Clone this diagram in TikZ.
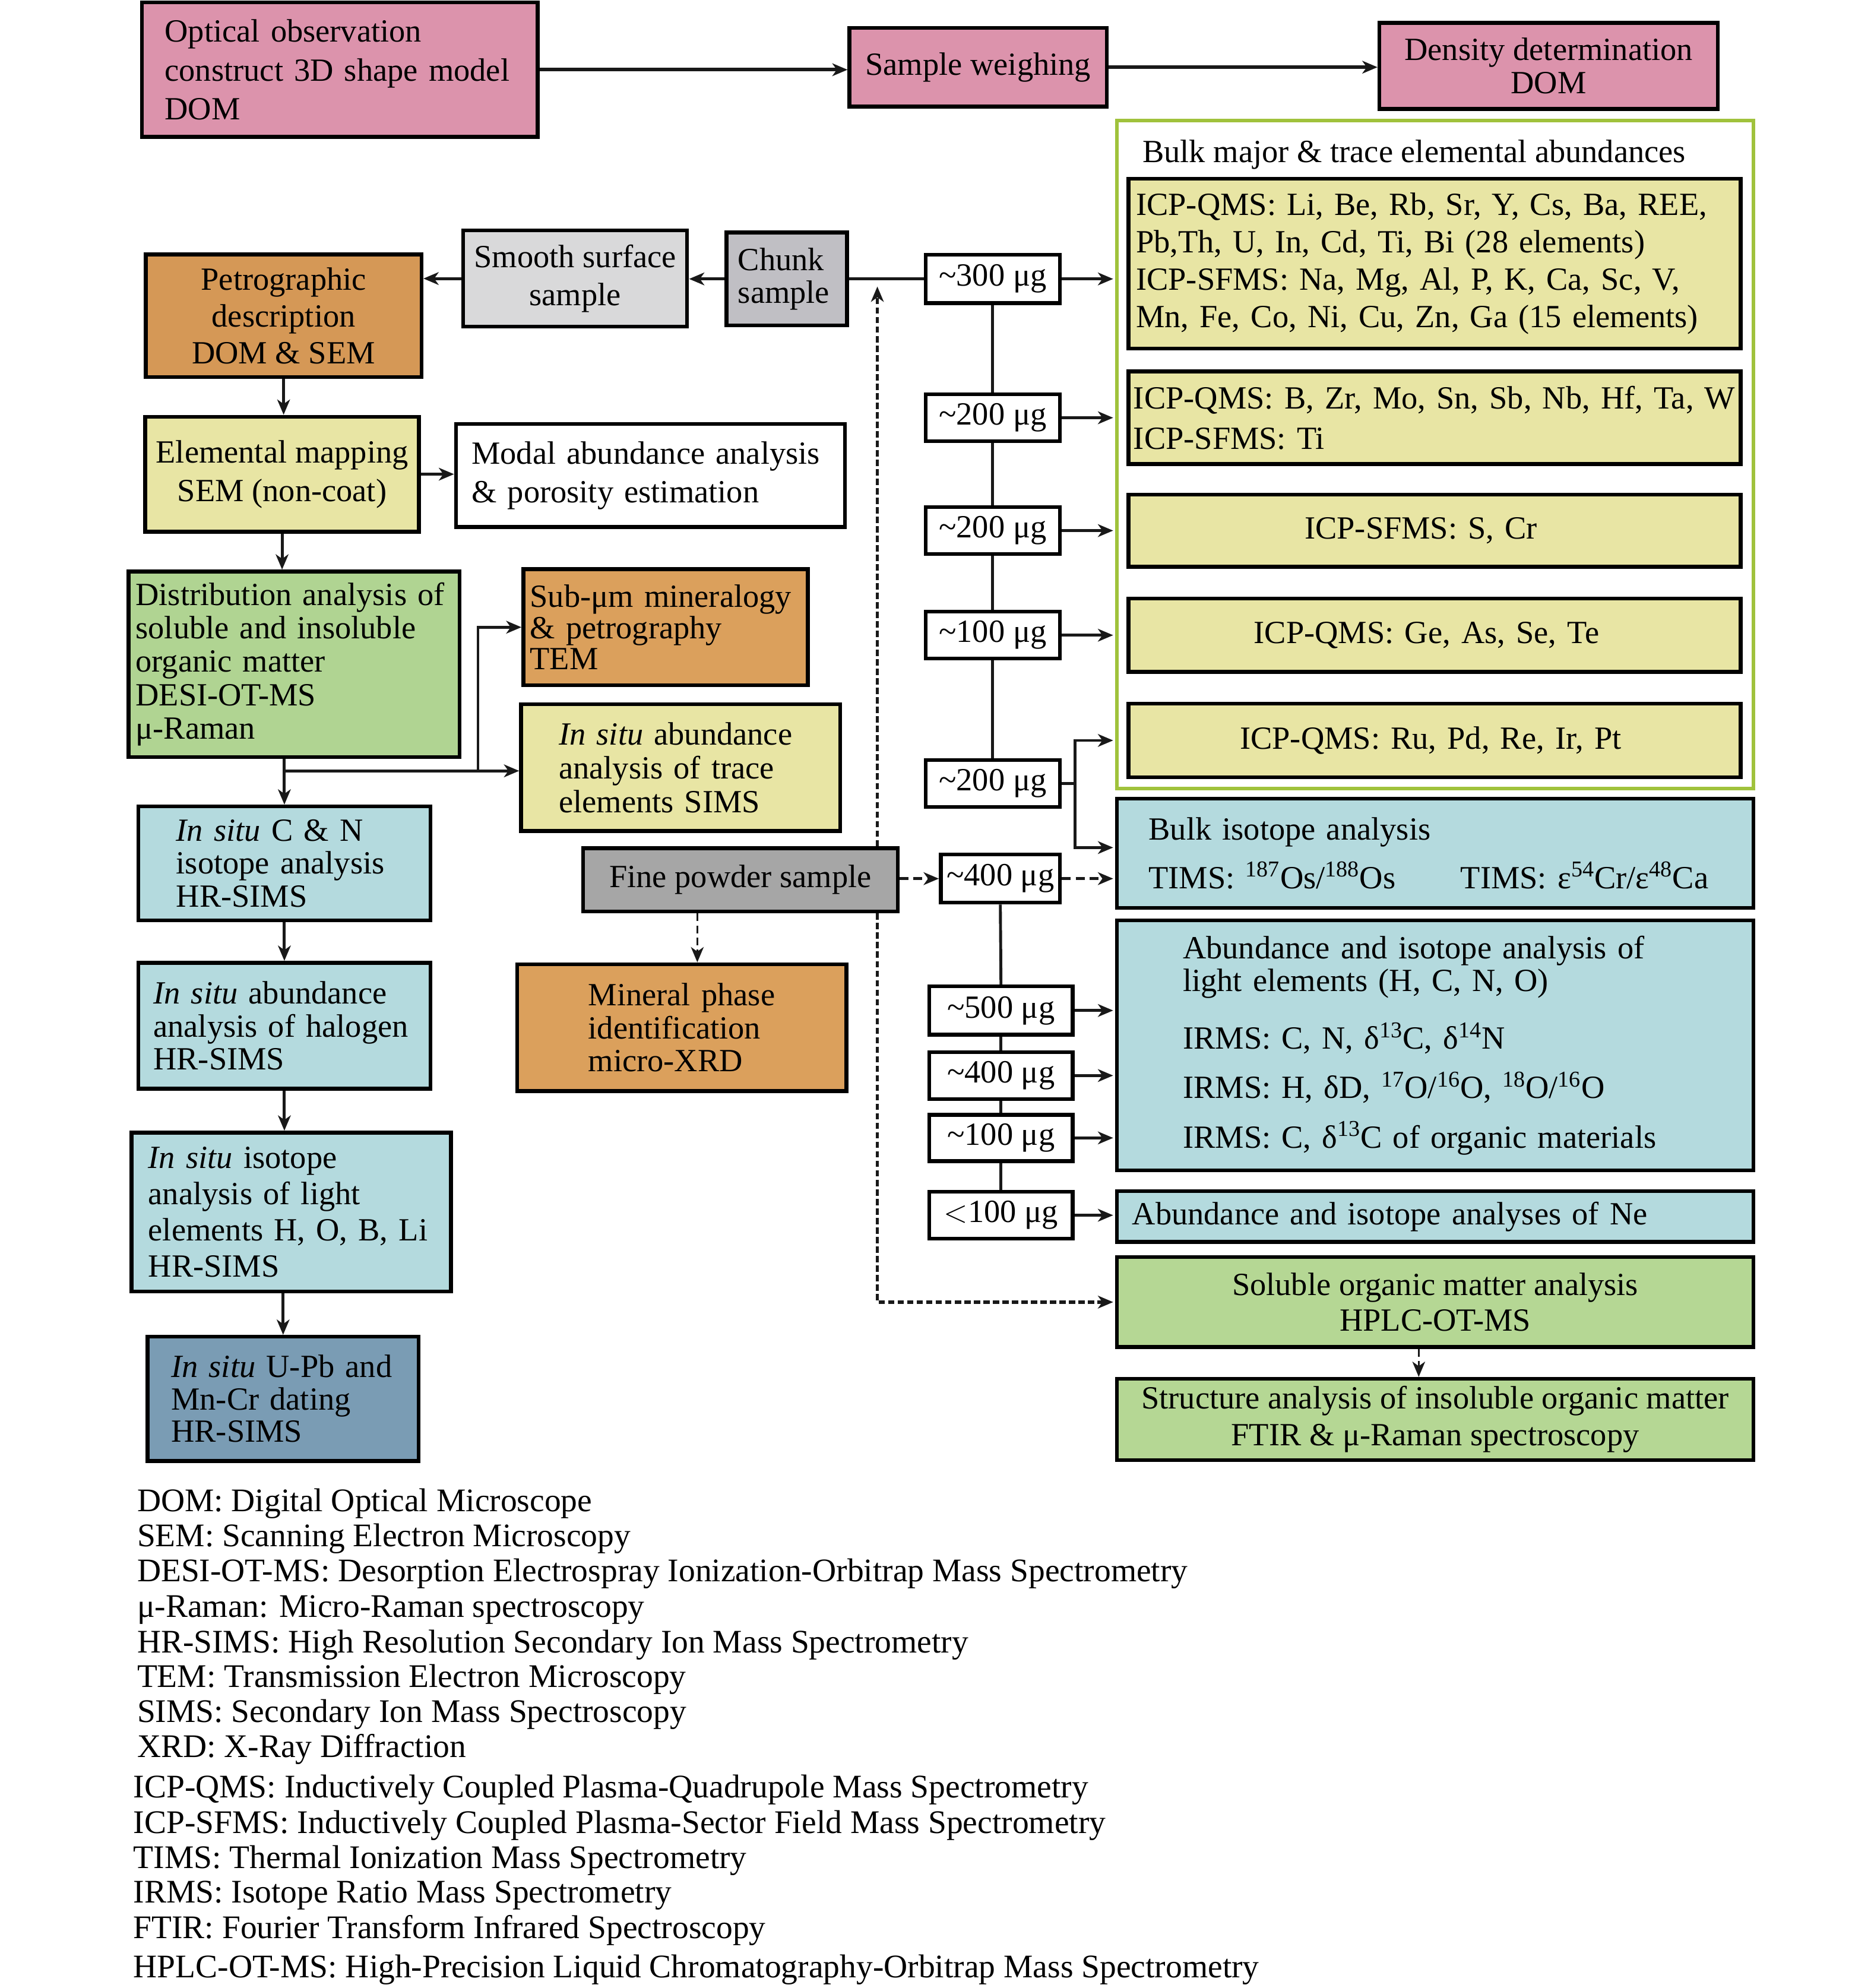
\documentclass[tikz,border=0pt]{standalone}
\usepackage{fontspec}
\setmainfont{Liberation Serif}
\usetikzlibrary{arrows.meta}
\newcommand{\myfs}[1]{\fontsize{25.5}{#1}\selectfont}
\newcommand{\legfs}{\fontsize{26}{28}\selectfont}
\definecolor{pinkc}{RGB}{220,147,172}
\definecolor{orangeA}{RGB}{213,152,86}
\definecolor{orangeB}{RGB}{219,160,92}
\definecolor{yellowc}{RGB}{232,229,164}
\definecolor{bluec}{RGB}{180,218,222}
\definecolor{greenA}{RGB}{176,212,146}
\definecolor{greenB}{RGB}{181,215,148}
\definecolor{dblue}{RGB}{122,156,180}
\definecolor{grayA}{RGB}{217,217,218}
\definecolor{grayB}{RGB}{192,191,196}
\definecolor{grayC}{RGB}{166,166,166}
\definecolor{framec}{RGB}{160,194,60}
\begin{document}
\begin{tikzpicture}[x=1pt,y=-1pt,
  >={Stealth[length=12pt,width=10pt,inset=3.5pt]},
  box/.style={draw=black, line width=3pt, inner sep=0pt},
  conn/.style={line width=2.3pt, draw=black!90},
  arr/.style={conn, ->},
  farr/.style={conn, ->, shorten >=1.5pt},
  densedash/.style={line width=2.6pt, draw=black!90, dash pattern=on 5pt off 2.5pt, ->},
  middash/.style={line width=2.4pt, draw=black!90, dash pattern=on 7pt off 4pt, ->},
  thindash/.style={line width=1.6pt, draw=black!90, dash pattern=on 6pt off 3.5pt, ->},
  mbox/.style={box, fill=white, font=\myfs{26}},
  legend/.style={anchor=base west, inner sep=0pt, font=\legfs}
]
\useasboundingbox (0,0) rectangle (1475.3,1568);
\fill[white] (0,0) rectangle (1475.3,1568);

% ---------- top row ----------
\node[box, fill=pinkc, minimum width=312, minimum height=106, text width=276, align=left, font=\myfs{30.5}] (opt) at (268,55) {Optical observation\\\mbox{construct 3D shape model}\\DOM};
\node[box, fill=pinkc, minimum width=203, minimum height=62, align=center, font=\myfs{30}] (weigh) at (771.5,53) {Sample weighing};
\node[box, fill=pinkc, minimum width=267, minimum height=68, align=center, font=\myfs{26}] (dens) at (1221.5,52) {Density determination\\DOM};
\draw[arr, line width=2.8pt] (opt.east) -- (opt.east -| weigh.west);
\draw[arr, line width=2.8pt] (weigh.east) -- (weigh.east -| dens.west);

% ---------- bulk elemental frame ----------
\node[draw=framec, line width=3pt, minimum width=502, minimum height=527, inner sep=0pt] (bulk) at (1132,358.5) {};
\node[anchor=base west, inner sep=0pt, font=\myfs{26}] (bulkt) at (901,128) {Bulk major \& trace elemental abundances};
\node[box, fill=yellowc, minimum width=483, minimum height=134, text width=471, align=left, font=\myfs{29.5}] (y1) at (1131.5,208) {\mbox{ICP-QMS: Li, Be, Rb, Sr, Y, Cs, Ba, REE,}\\\mbox{Pb,Th, U, In, Cd, Ti, Bi (28 elements)}\\\mbox{ICP-SFMS: Na, Mg, Al, P, K, Ca, Sc, V,}\\\mbox{Mn, Fe, Co, Ni, Cu, Zn, Ga (15 elements)}};
\node[box, fill=yellowc, minimum width=483, minimum height=73, text width=475, align=left, font=\myfs{32}] (y2) at (1131.5,329.5) {\mbox{ICP-QMS: B, Zr, Mo, Sn, Sb, Nb, Hf, Ta, W}\\ICP-SFMS: Ti};
\node[box, fill=yellowc, minimum width=483, minimum height=57, text width=205, align=left, font=\myfs{26}] (y3) at (1131.5,418.5) {\mbox{ICP-SFMS: S, Cr}};
\node[box, fill=yellowc, minimum width=483, minimum height=58, text width=285, align=left, font=\myfs{26}] (y4) at (1131.5,501) {\mbox{ICP-QMS: Ge, As, Se, Te}};
\node[box, fill=yellowc, minimum width=483, minimum height=58, text width=307, align=left, font=\myfs{26}] (y5) at (1131.5,584) {\mbox{ICP-QMS: Ru, Pd, Re, Ir, Pt}};

% ---------- right-hand boxes ----------
\node[box, fill=bluec, minimum width=502, minimum height=86, text width=452, align=left, font=\myfs{38}] (bulkiso) at (1132,673) {Bulk isotope analysis\\\makebox[246pt][l]{TIMS: \textsuperscript{187}Os/\textsuperscript{188}Os}TIMS: ε\textsuperscript{54}Cr/ε\textsuperscript{48}Ca};
\node[box, fill=bluec, minimum width=502, minimum height=197, text width=398, align=left, font=\myfs{26}] (light) at (1132,824.5) {Abundance and isotope analysis of\\light elements (H, C, N, O)\\[18pt]IRMS: C, N, δ\textsuperscript{13}C, δ\textsuperscript{14}N\\[13pt]IRMS: H, δD, \textsuperscript{17}O/\textsuperscript{16}O, \textsuperscript{18}O/\textsuperscript{16}O\\[13pt]\mbox{IRMS: C, δ\textsuperscript{13}C of organic materials}};
\node[box, fill=bluec, minimum width=502, minimum height=40, text width=478, align=left, font=\myfs{26}] (ne) at (1132,959.5) {Abundance and isotope analyses of Ne};
\node[box, fill=greenB, minimum width=502, minimum height=71, align=center, font=\myfs{28}] (sol) at (1132,1027) {Soluble organic matter analysis\\HPLC-OT-MS};
\node[box, fill=greenB, minimum width=502, minimum height=64, align=center, font=\myfs{29}] (struct) at (1132,1119.5) {Structure analysis of insoluble organic matter\\FTIR \& μ-Raman spectroscopy};
\draw[thindash] ([xshift=-13pt]sol.south) -- ([xshift=-13pt]sol.south |- struct.north);

% ---------- mass boxes ----------
\node[mbox, minimum width=106, minimum height=38] (m1) at (783,220) {\textasciitilde300 μg};
\node[mbox, minimum width=106, minimum height=37] (m2) at (783,329.5) {\textasciitilde200 μg};
\node[mbox, minimum width=106, minimum height=37] (m3) at (783,418.5) {\textasciitilde200 μg};
\node[mbox, minimum width=106, minimum height=37] (m4) at (783,501) {\textasciitilde100 μg};
\node[mbox, minimum width=106, minimum height=37] (m5) at (783,618) {\textasciitilde200 μg};
\node[mbox, minimum width=94, minimum height=38] (m6) at (789,693) {\textasciitilde400 μg};
\node[mbox, minimum width=113, minimum height=38] (m7) at (789.5,797) {\textasciitilde500 μg};
\node[mbox, minimum width=113, minimum height=37] (m8) at (789.5,848.3) {\textasciitilde400 μg};
\node[mbox, minimum width=113, minimum height=36.5] (m9) at (789.5,897.5) {\textasciitilde100 μg};
\node[mbox, minimum width=113, minimum height=37] (m10) at (789.5,958.5) {$<$100 μg};

\draw[conn] (m1.south) -- (m2.north);
\draw[conn] (m2.south) -- (m3.north);
\draw[conn] (m3.south) -- (m4.north);
\draw[conn] (m4.south) -- (m5.north);
\draw[conn] (m6.south) -- (m7.north);
\draw[conn] (m7.south) -- (m8.north);
\draw[conn] (m8.south) -- (m9.north);
\draw[conn] (m9.south) -- (m10.north);

\draw[farr] (m1.east) -- (m1.east -| bulk.west);
\draw[farr] (m2.east) -- (m2.east -| bulk.west);
\draw[farr] (m3.east) -- (m3.east -| bulk.west);
\draw[farr] (m4.east) -- (m4.east -| bulk.west);
\coordinate (bx) at (848,618);
\coordinate (bi) at ([yshift=4.5pt]bulkiso.west);
\draw[conn] (m5.east) -- (bx);
\draw[farr] (bx) |- (y5.west -| bulk.west);
\draw[farr] (bx) |- (bi);
\draw[farr] (m7.east) -- (m7.east -| light.west);
\draw[farr] (m8.east) -- (m8.east -| light.west);
\draw[farr] (m9.east) -- (m9.east -| light.west);
\draw[farr] (m10.east) -- (m10.east -| ne.west);

% ---------- samples ----------
\node[box, fill=orangeA, minimum width=217.5, minimum height=96.7, align=center, font=\myfs{29}] (petro) at (223.7,249) {Petrographic\\description\\DOM \& SEM};
\node[box, fill=grayA, minimum width=176.6, minimum height=75.7, align=center, font=\myfs{29.6}] (smooth) at (453.7,219.7) {Smooth surface\\sample};
\node[box, fill=grayB, minimum width=95, minimum height=73.4, text width=77, align=left, font=\myfs{26}] (chunk) at (620.6,220) {Chunk\\sample};
\draw[arr] (chunk.west) -- (chunk.west -| smooth.east);
\draw[arr] (smooth.west) -- (smooth.west -| petro.east);
\draw[conn] (chunk.east) -- (chunk.east -| m1.west);

\node[box, fill=grayC, minimum width=248, minimum height=50, font=\myfs{26}] (fine) at (584,694) {Fine powder sample};
\node[box, fill=orangeB, minimum width=259.5, minimum height=100, text width=147.6, align=left, font=\myfs{26}] (mineral) at (537.8,810.5) {\mbox{Mineral phase}\\identification\\micro-XRD};
\draw[thindash] ([xshift=-34pt]fine.south) -- ([xshift=-34pt]fine.south |- mineral.north);
\draw[middash] (fine.east |- m6.west) -- (m6.west);
\draw[middash, shorten >=1.5pt] (m6.east) -- (m6.east -| bulkiso.west);
\coordinate (dtop) at (692,226);
\draw[densedash] (fine.north -| dtop) -- (dtop);
\draw[densedash, shorten >=1.5pt] (fine.south -| dtop) |- (sol.west);

% ---------- left column ----------
\node[box, fill=yellowc, minimum width=216, minimum height=90.7, align=center, font=\myfs{30.5}] (elem) at (222.5,374) {Elemental mapping\\SEM (non-coat)};
\node[box, fill=white, minimum width=306.7, minimum height=81.4, text width=282, align=left, font=\myfs{30.5}] (modal) at (513,375) {\mbox{Modal abundance analysis}\\\& porosity estimation};
\draw[arr] (petro.south) -- (petro.south |- elem.north);
\draw[arr] (elem.east) -- (elem.east -| modal.west);

\node[box, fill=greenA, minimum width=261, minimum height=146.3, text width=249.8, align=left, font=\myfs{26.4}] (dist) at (231.9,523.9) {\mbox{Distribution analysis of}\\soluble and insoluble\\organic matter\\DESI-OT-MS\\μ-Raman};
\draw[arr] (elem.south) -- (elem.south |- dist.north);

\node[box, fill=orangeB, minimum width=224.4, minimum height=91.6, text width=214, align=left, font=\myfs{24.5}] (submu) at (525,494.7) {\mbox{Sub-μm mineralogy}\\\& petrography\\TEM};
\node[box, fill=yellowc, minimum width=251.6, minimum height=100, text width=192, align=left, font=\myfs{26.6}] (insitutr) at (536.8,605.4) {\mbox{\textit{In situ} abundance}\\analysis of trace\\elements SIMS};

\node[box, fill=bluec, minimum width=230.5, minimum height=89.8, text width=170.6, align=left, font=\myfs{26}] (cn) at (224.3,681) {\textit{In situ} C \& N\\\mbox{isotope analysis}\\HR-SIMS};
\node[box, fill=bluec, minimum width=230.5, minimum height=99.3, text width=206.6, align=left, font=\myfs{25.8}] (halo) at (224.3,809) {\mbox{\textit{In situ} abundance}\\\mbox{analysis of halogen}\\HR-SIMS};
\node[box, fill=bluec, minimum width=252, minimum height=125.4, text width=225.4, align=left, font=\myfs{28.5}] (iso) at (229.7,956) {\textit{In situ} isotope\\analysis of light\\\mbox{elements H, O, B, Li}\\HR-SIMS};
\node[box, fill=dblue, minimum width=213.7, minimum height=98, text width=176.6, align=left, font=\myfs{25.5}] (upb) at (223.3,1103.3) {\mbox{\textit{In situ} U-Pb and}\\Mn-Cr dating\\HR-SIMS};

\coordinate (j1) at (224.3,608);
\coordinate (j2) at (377,608);
\draw[conn] (dist.south -| j1) -- (j1);
\draw[arr] (j1) -- (cn.north);
\draw[arr] (j1) -- (j1 -| insitutr.west);
\draw[arr] (j2) |- (submu.west);
\draw[arr] (cn.south) -- (halo.north);
\draw[arr] (halo.south) -- (halo.south |- iso.north);
\draw[arr] (upb.north |- iso.south) -- (upb.north);

% ---------- legend ----------
\node[legend] (l1) at (108,1192) {DOM: Digital Optical Microscope};
\node[legend] (l2) at (108,1220) {SEM: Scanning Electron Microscopy};
\node[legend] (l3) at (108,1247.5) {DESI-OT-MS: Desorption Electrospray Ionization-Orbitrap Mass Spectrometry};
\node[legend] (l4) at (108,1275.5) {μ-Raman: Micro-Raman spectroscopy};
\node[legend] (l5) at (108,1303.5) {HR-SIMS: High Resolution Secondary Ion Mass Spectrometry};
\node[legend] (l6) at (108,1331) {TEM: Transmission Electron Microscopy};
\node[legend] (l7) at (108,1358.5) {SIMS: Secondary Ion Mass Spectroscopy};
\node[legend] (l8) at (108,1386) {XRD: X-Ray Diffraction};
\node[legend] (l9) at (105,1418) {ICP-QMS: Inductively Coupled Plasma-Quadrupole Mass Spectrometry};
\node[legend] (l10) at (105,1446) {ICP-SFMS: Inductively Coupled Plasma-Sector Field Mass Spectrometry};
\node[legend] (l11) at (105,1473.5) {TIMS: Thermal Ionization Mass Spectrometry};
\node[legend] (l12) at (105,1501) {IRMS: Isotope Ratio Mass Spectrometry};
\node[legend] (l13) at (105,1529) {FTIR: Fourier Transform Infrared Spectroscopy};
\node[legend] (l14) at (105,1560) {HPLC-OT-MS: High-Precision Liquid Chromatography-Orbitrap Mass Spectrometry};
\end{tikzpicture}
\end{document}
